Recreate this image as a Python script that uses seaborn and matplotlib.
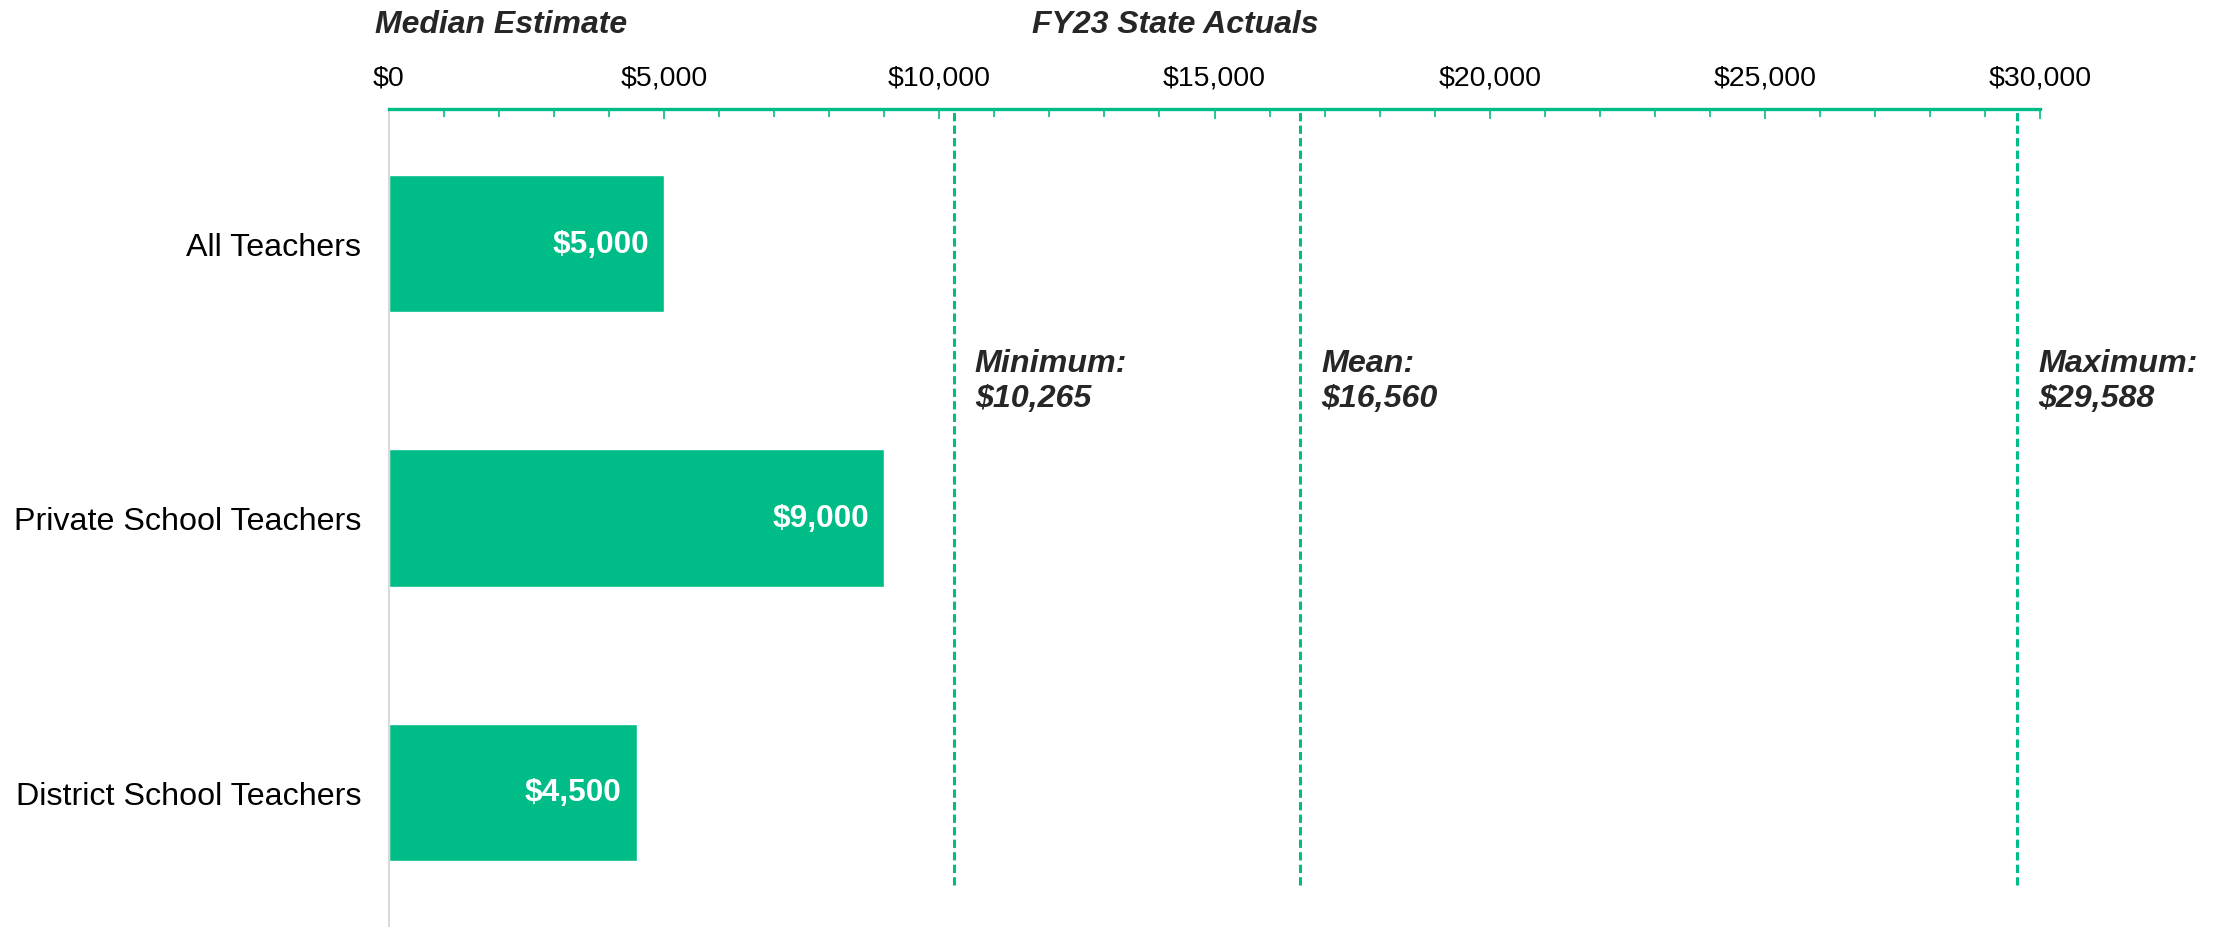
import numpy as np
import pandas as pd
import matplotlib
matplotlib.use("Agg")
import matplotlib.pyplot as plt
from matplotlib.ticker import MultipleLocator, FuncFormatter
import seaborn as sns

# data
groups = ['All Teachers', 'Private School Teachers', 'District School Teachers']
median_estimate = [5000, 9000, 4500]
stat_names = ['Minimum:', 'Mean:', 'Maximum:']
stat_values = [10265, 16560, 29588]

GREEN = '#00BC87'
DARK = '#262626'

sns.set_theme(style='white')
plt.rcParams['font.family'] = ['Liberation Sans', 'DejaVu Sans']

df = pd.DataFrame({'group': groups, 'value': median_estimate})

fig = plt.figure(figsize=(22.22, 9.28), dpi=100)
ax = fig.add_axes([389 / 2222, 0.0, 1651 / 2222, 1 - 110 / 928])

sns.barplot(data=df, x='value', y='group', orient='h', color=GREEN,
            saturation=1, width=0.5, ax=ax)

ax.set_xlim(0, 30000)
ax.set_ylim(2.49, -0.49)
ax.set_xlabel('')
ax.set_ylabel('')

# axis on top, green line with inward ticks
ax.xaxis.tick_top()
ax.xaxis.set_major_locator(MultipleLocator(5000))
ax.xaxis.set_minor_locator(MultipleLocator(1000))
ax.xaxis.set_major_formatter(FuncFormatter(lambda v, p: f'${v:,.0f}'))
ax.tick_params(axis='x', which='major', direction='in', length=7, width=1.2,
               color=GREEN, labelsize=20.5, labelcolor='black', pad=13,
               top=True, bottom=False)
ax.tick_params(axis='x', which='minor', direction='in', length=5.5, width=1.2,
               color=GREEN, top=True, bottom=False)
ax.tick_params(axis='y', length=0, labelsize=23.2, labelcolor='black', pad=20)

for s in ['right', 'bottom']:
    ax.spines[s].set_visible(False)
ax.spines['top'].set_color(GREEN)
ax.spines['top'].set_linewidth(2.4)
ax.spines['left'].set_color('#D9D9D9')
ax.spines['left'].set_linewidth(1.5)

# value labels inside bar ends
for i, v in enumerate(median_estimate):
    ax.annotate(f'${v:,.0f}', xy=(v, i), xytext=(-11, 0),
                textcoords='offset points', ha='right', va='center',
                color='white', fontsize=22.8, fontweight='bold')

# state actuals reference lines
for name, v in zip(stat_names, stat_values):
    ax.axvline(v, ymin=0.051, ymax=0.996, color=GREEN, lw=2.2,
               linestyle=(0, (2.7, 1.4)))
    ax.annotate(f'{name}\n${v:,.0f}', xy=(v, 0.5), xytext=(15, 0),
                textcoords='offset points', ha='left', va='center',
                color=DARK, fontsize=23.2, fontweight='bold',
                fontstyle='italic', linespacing=1.22)

fig.text(375 / 2222, 1 - 25 / 928, 'Median Estimate', ha='left', va='center',
         color=DARK, fontsize=23, fontweight='bold', fontstyle='italic')
fig.text(1032 / 2222, 1 - 25 / 928, 'FY23 State Actuals', ha='left', va='center',
         color=DARK, fontsize=23, fontweight='bold', fontstyle='italic')

fig.savefig('out.png', dpi=100)
